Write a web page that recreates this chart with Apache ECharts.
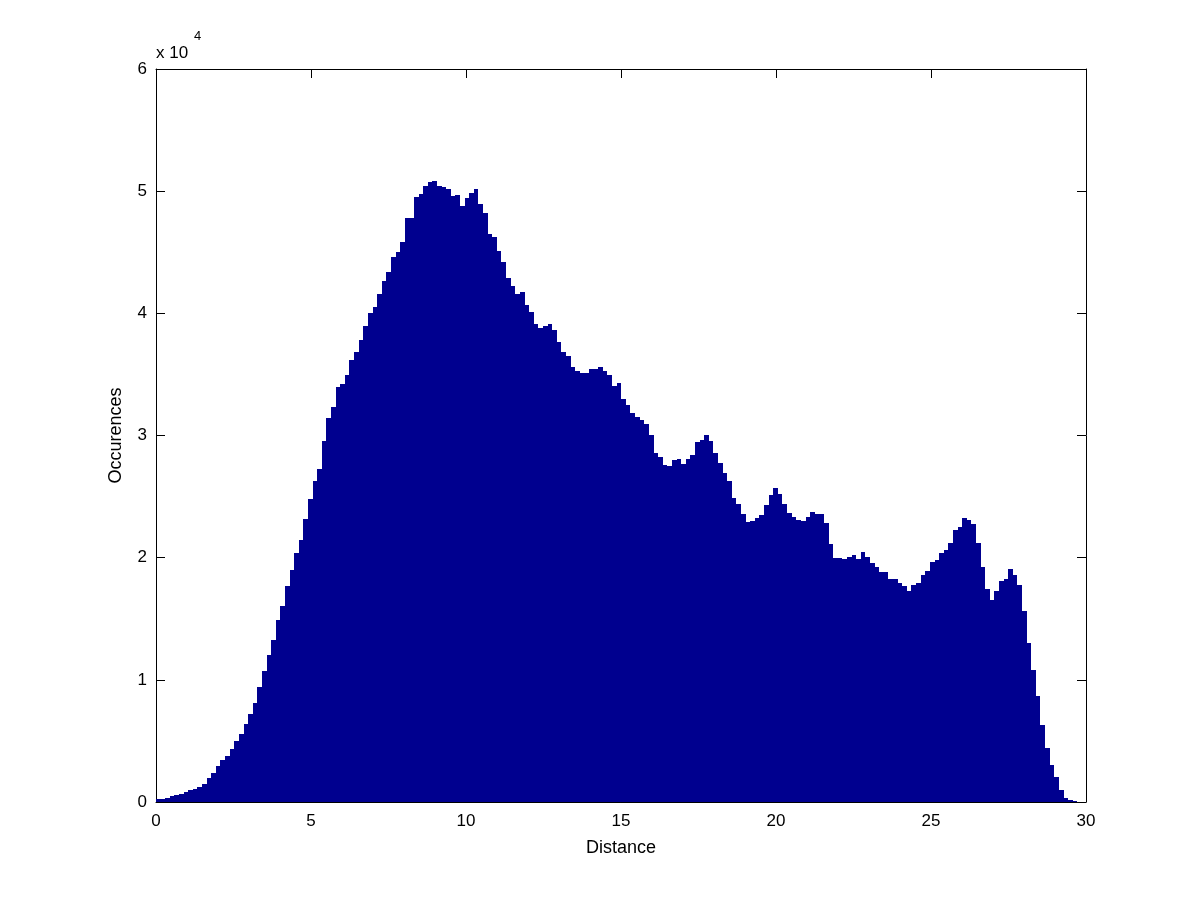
<!DOCTYPE html>
<html>
<head>
<meta charset="utf-8">
<script src="https://cdn.jsdelivr.net/npm/echarts@6/dist/echarts.min.js"></script>
<style>
  html, body { margin: 0; padding: 0; background: #fff; }
  #chart { width: 1200px; height: 901px; }
</style>
</head>
<body>
<div id="chart"></div>
<script>
// histogram: 200 bins starting at 0
const binStart = 0
const binWidth = 0.1486
const counts = [
  230, 260, 355, 490, 570, 654, 790, 980, 1060, 1225,
  1470, 1960, 2400, 2945, 3440, 3765, 4340, 4990, 5565, 6385,
  7200, 8100, 9410, 10720, 12030, 13260, 14900, 16040, 17680, 18990,
  20400, 21450, 23160, 24800, 26270, 27260, 29550, 31430, 32330, 33970,
  34210, 34950, 36180, 36830, 37810, 38960, 40020, 40510, 41600, 42640,
  43380, 44610, 45020, 45840, 47810, 47810, 49530, 49780, 50430, 50750,
  50830, 50430, 50340, 50180, 49610, 49690, 48790, 49450, 49860, 50180,
  48950, 48220, 46490, 46250, 45110, 44200, 42890, 42240, 41580, 41740,
  40680, 40110, 39130, 38800, 38960, 39130, 38630, 37650, 36830, 36500,
  35600, 35280, 35110, 35110, 35440, 35440, 35600, 35280, 34950, 34050,
  34290, 32990, 32490, 31840, 31510, 31270, 30940, 30040, 28600, 28240,
  27580, 27500, 27990, 28070, 27670, 28070, 28400, 29470, 29630, 30040,
  29550, 28570, 27750, 26930, 26270, 24880, 24390, 23570, 22920, 23000,
  23250, 23490, 24310, 25130, 25700, 25210, 24390, 23650, 23330, 23080,
  23000, 23330, 23740, 23570, 23570, 22840, 21120, 19970, 19970, 19890,
  20050, 20220, 19890, 20460, 20050, 19560, 19230, 18830, 18830, 18250,
  18250, 17930, 17680, 17270, 17760, 17930, 18580, 18910, 19640, 19800,
  20380, 20630, 21200, 22260, 22510, 23250, 23080, 22750, 21200, 19230,
  17430, 16530, 17270, 18090, 18250, 19070, 18580, 17760, 15630, 13010,
  10800, 8680, 6300, 4420, 3030, 2050, 980, 330, 160, 80
]
const xTicks = [0, 5, 10, 15, 20, 25, 30]
const yTicks = [0, 1, 2, 3, 4, 5, 6] // x 10^4

const font = 'Liberation Sans, Arial, Helvetica, sans-serif'
const myChart = echarts.init(document.getElementById('chart'))

const binData = counts.map((c, i) => [binStart + i * binWidth, binStart + (i + 1) * binWidth, c])

const tickStyle = { show: true, inside: true, length: 9, lineStyle: { color: '#000' } }
const lineStyle = { show: true, onZero: false, lineStyle: { color: '#000', width: 1 } }

const option = {
  animation: false,
  backgroundColor: '#fff',
  grid: { left: 156, right: 114, top: 69, bottom: 99 },
  xAxis: [
    {
      type: 'value', min: xTicks[0], max: xTicks[xTicks.length - 1], interval: 5,
      axisLine: lineStyle, axisTick: tickStyle, splitLine: { show: false },
      axisLabel: { color: '#000', fontSize: 17, fontFamily: font, margin: 11 },
      name: 'Distance', nameLocation: 'middle', nameGap: 37,
      nameTextStyle: { color: '#000', fontSize: 18, fontFamily: font }
    },
    {
      type: 'value', position: 'top', min: 0, max: 30, interval: 5,
      axisLine: lineStyle, axisTick: tickStyle, axisLabel: { show: false }, splitLine: { show: false }
    }
  ],
  yAxis: [
    {
      type: 'value', min: yTicks[0] * 10000, max: yTicks[yTicks.length - 1] * 10000, interval: 10000,
      axisLine: lineStyle, axisTick: tickStyle, splitLine: { show: false },
      axisLabel: { color: '#000', fontSize: 17, fontFamily: font, margin: 9, formatter: v => String(v / 10000) },
      name: 'Occurences', nameLocation: 'middle', nameGap: 31, nameRotate: 90,
      nameTextStyle: { color: '#000', fontSize: 18, fontFamily: font }
    },
    {
      type: 'value', position: 'right', min: 0, max: 60000, interval: 10000,
      axisLine: lineStyle, axisTick: tickStyle, axisLabel: { show: false }, splitLine: { show: false }
    }
  ],
  graphic: [
    { type: 'text', left: 156, top: 45, style: { text: 'x 10', fontSize: 17, fontFamily: font, fill: '#000' } },
    { type: 'text', left: 194, top: 30, style: { text: '4', fontSize: 13, fontFamily: font, fill: '#000' } }
  ],
  series: [
    {
      type: 'custom',
      xAxisIndex: 0,
      yAxisIndex: 0,
      data: binData,
      renderItem(params, api) {
        const p0 = api.coord([api.value(0), api.value(2)])
        const p1 = api.coord([api.value(1), 0])
        const x0 = Math.round(p0[0])
        const x1 = Math.round(p1[0])
        const y0 = Math.round(p0[1])
        const y1 = Math.round(p1[1])
        return {
          type: 'rect',
          shape: { x: x0, y: y0, width: x1 - x0, height: y1 - y0 },
          style: { fill: 'rgb(0,0,143)' }
        }
      }
    }
  ]
}

myChart.setOption(option)
</script>
</body>
</html>
